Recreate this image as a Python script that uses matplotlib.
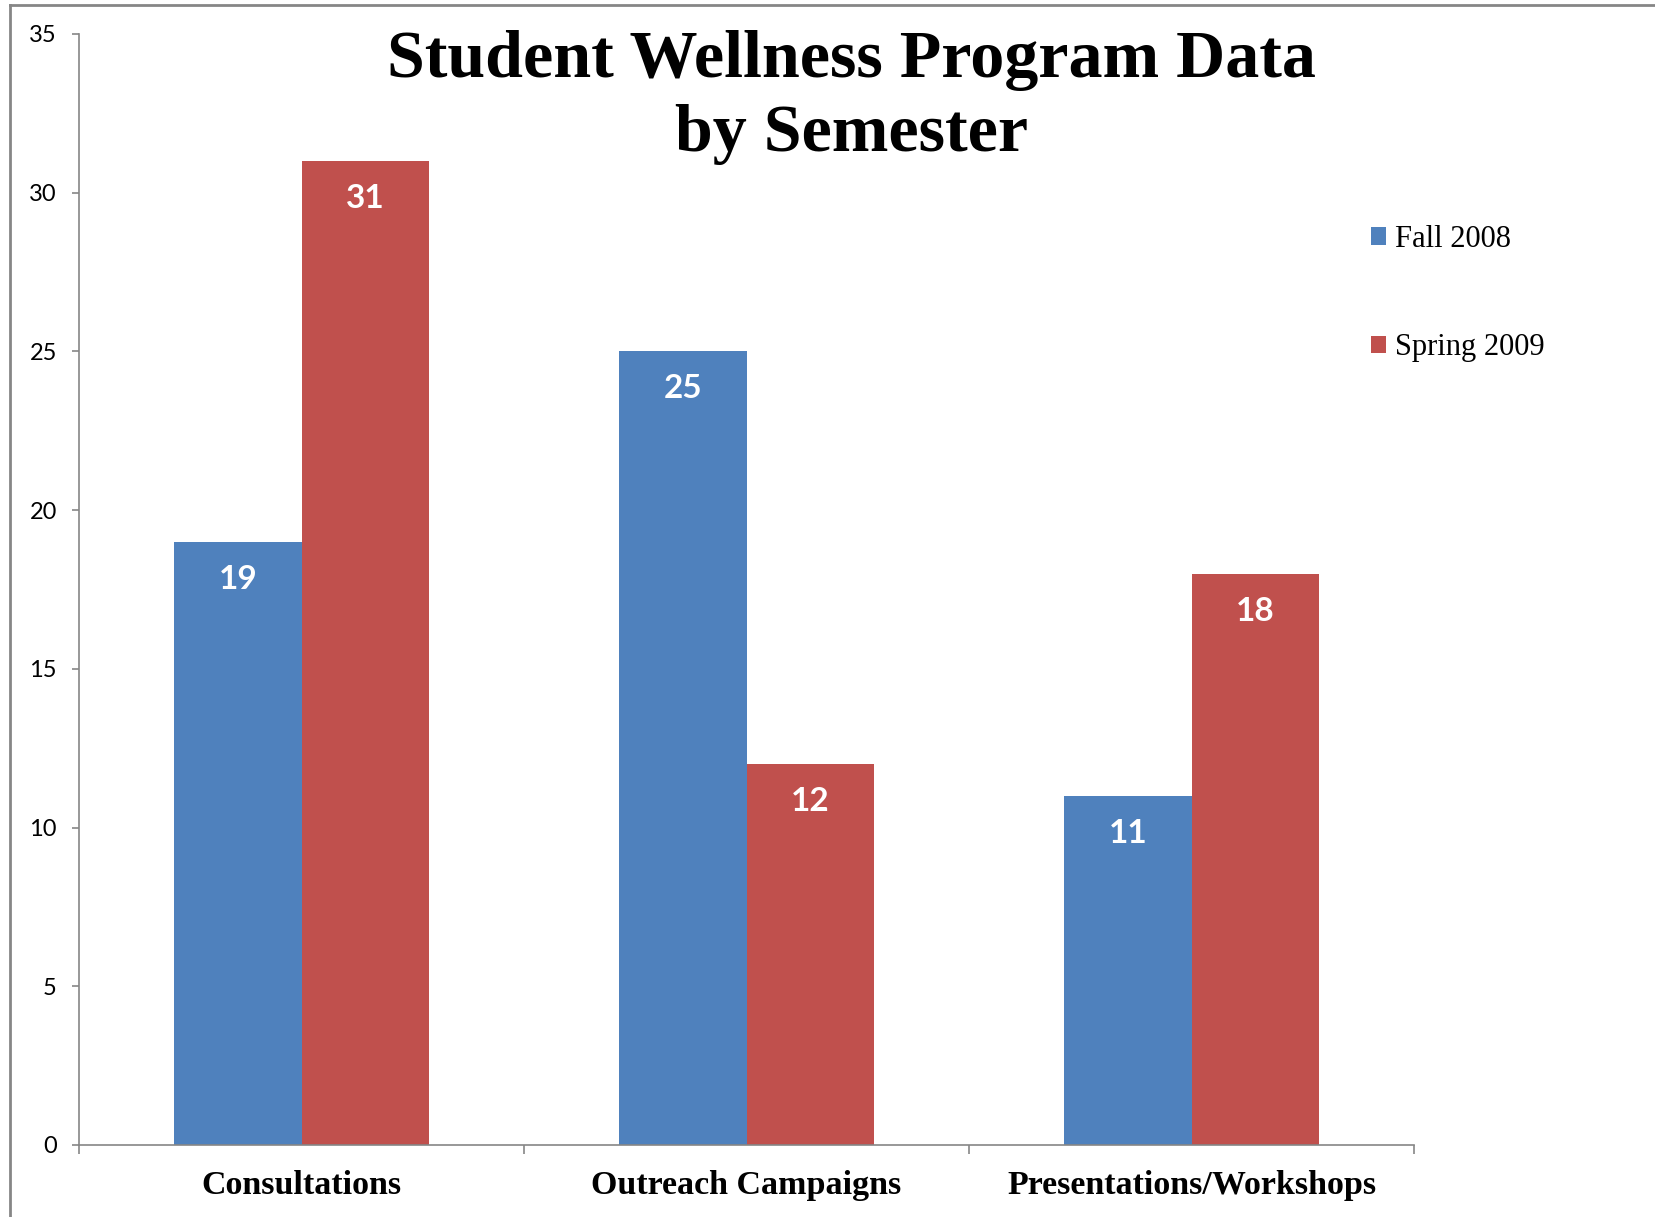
import matplotlib
matplotlib.use("Agg")
import matplotlib.pyplot as plt
from matplotlib.lines import Line2D


categories = ["Consultations", "Outreach Campaigns", "Presentations/Workshops"]
fall_2008 = [19, 25, 11]
spring_2009 = [31, 12, 18]
series_names = ["Fall 2008", "Spring 2009"]
y_ticks = [0, 5, 10, 15, 20, 25, 30, 35]

BLUE = "#4F81BD"
RED = "#C0504D"
GRAY = "#868686"
SERIF = "Liberation Serif"
SANS = "Lato"

# Figure setup:

fig = plt.figure(figsize=(16.56, 12.17), dpi=100)
ax = fig.add_axes([0.0477, 0.0592, 0.8062, 0.9129])

width = 0.286
x = list(range(len(categories)))
bars_fall = ax.bar([i - width / 2 for i in x], fall_2008, width, color=BLUE,
                   label=series_names[0])
bars_spring = ax.bar([i + width / 2 for i in x], spring_2009, width, color=RED,
                     label=series_names[1])

# Data labels inside the bar tops:

for bars, values in [(bars_fall, fall_2008), (bars_spring, spring_2009)]:
    for bar, value in zip(bars, values):
        ax.annotate(
            str(value),
            (bar.get_x() + bar.get_width() / 2, value),
            xytext=(0, -27), textcoords="offset points",
            ha="center", va="center",
            color="white", fontsize=24, fontweight="bold", family=SANS
        )

# Axes styling:

ax.set_xlim(-0.5, 2.5)
ax.set_ylim(0, 35)
ax.set_yticks(y_ticks)
ax.tick_params(axis="y", length=5, width=1.2, color=GRAY, pad=11,
               labelsize=17)
for label in ax.get_yticklabels():
    label.set_family(SANS)

ax.set_xticks(x)
ax.set_xticklabels(categories, family=SERIF, fontweight="bold", fontsize=24.5)
ax.tick_params(axis="x", which="major", length=0, pad=18)
ax.set_xticks([-0.5, 0.5, 1.5, 2.5], minor=True)
ax.tick_params(axis="x", which="minor", length=6.5, width=1.2, color=GRAY)

for side in ["top", "right"]:
    ax.spines[side].set_visible(False)
for side in ["left", "bottom"]:
    ax.spines[side].set_color(GRAY)
    ax.spines[side].set_linewidth(1.2)

# Title:

fig.text(0.514, 0.975, "Student Wellness Program Data\nby Semester",
         ha="center", va="top", family=SERIF, fontweight="bold",
         fontsize=49, linespacing=1.26)

# Legend:

legend = fig.legend(
    handles=[bars_fall, bars_spring], labels=series_names,
    loc="upper left", bbox_to_anchor=(0.811, 0.838),
    frameon=False, prop={"family": SERIF, "size": 22},
    handlelength=0.5, handleheight=0.5, handletextpad=0.3,
    labelspacing=2.6
)

# Outer chart frame (cropped at right and bottom):

fig.add_artist(Line2D([10 / 1656, 1], [1 - 5 / 1217, 1 - 5 / 1217],
                      color=GRAY, linewidth=2, transform=fig.transFigure))
fig.add_artist(Line2D([10 / 1656, 10 / 1656], [0, 1 - 5 / 1217],
                      color=GRAY, linewidth=2, transform=fig.transFigure))

fig.savefig("out.png", dpi=100)
